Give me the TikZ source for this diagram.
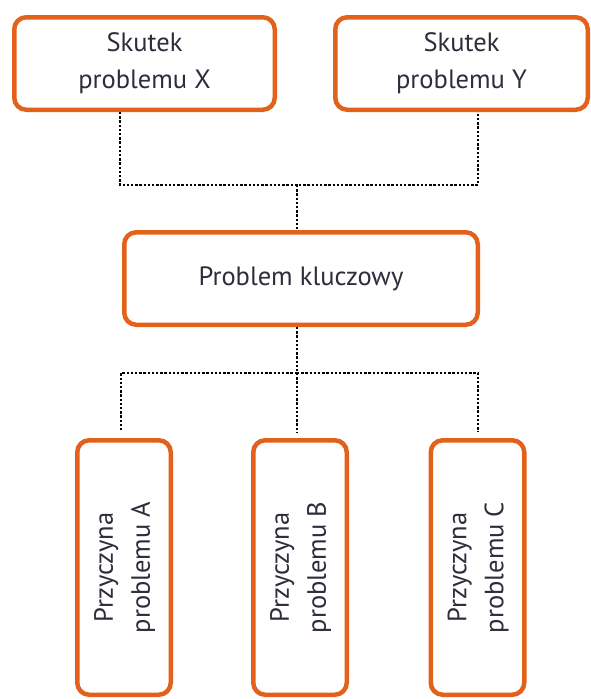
\documentclass[tikz,border=0pt]{standalone}
\usepackage{fontspec}
\setmainfont{PT Sans}
\definecolor{boxorange}{HTML}{E2611B}
\definecolor{boxtext}{HTML}{2E2D3C}
\begin{document}
\begin{tikzpicture}[x=1pt,y=-1pt,
    problembox/.style ={draw=boxorange, line width=4.5pt, rounded corners=12pt, fill=white,
       text=boxtext, align=center, inner sep=0pt, font=\fontsize{26.5}{37}\selectfont},
    toprow/.style ={problembox, minimum height=92.5pt},
    causebox/.style ={problembox, minimum width=93.5pt, minimum height=254.5pt},
    link/.style ={black, line width=2.8pt, dash pattern=on 2.4pt off 1.8pt}]
   \useasboundingbox (0,0) rectangle (591,699);
   \node[toprow, minimum width=260.5pt] (X)  at (144.5,63.5)  {Skutek\\problemu X};
   \node[toprow, minimum width=252.5pt] (Y)  at (461.5,63.5)  {Skutek\\problemu Y};
   \node[toprow, minimum width=353.5pt] (K)  at (301,278.5)  {Problem kluczowy};
   \node[causebox] (A)  at (124,567.5)  {\rotatebox{90}{\begin{tabular}{@{}c@{}}Przyczyna\\problemu A\end{tabular}}};
   \node[causebox] (B)  at (300,567.5)  {\rotatebox{90}{\begin{tabular}{@{}c@{}}Przyczyna\\problemu B\end{tabular}}};
   \node[causebox] (C)  at (477.5,567.5)  {\rotatebox{90}{\begin{tabular}{@{}c@{}}Przyczyna\\problemu C\end{tabular}}};
   \coordinate (jtop) at (297,185);
   \coordinate (jbot) at (297,373);
   \draw[link] ([xshift=-24.5pt]X.south) |- (jtop) -| ([xshift=16.5pt]Y.south);
   \draw[link] (jtop) -- (jtop |- K.north);
   \draw[link] (jbot |- K.south) -- (jbot);
   \draw[link, shorten >=6pt] (jbot) -| ([xshift=-3pt]A.north);
   \draw[link, shorten >=6pt] (jbot) -- (jbot |- B.north);
   \draw[link, shorten >=6pt] (jbot) -| ([xshift=0.5pt]C.north);
 \end{tikzpicture}
\end{document}
